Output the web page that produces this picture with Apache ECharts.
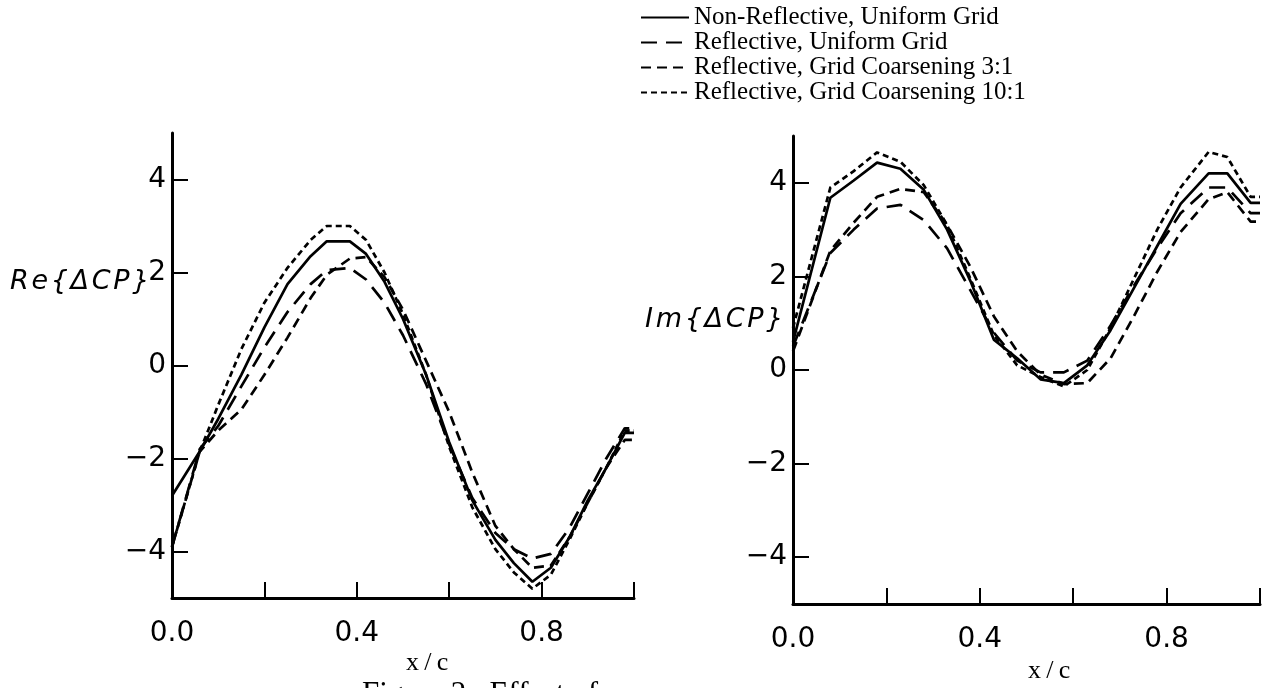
<!DOCTYPE html>
<html lang="en">
<head>
<meta charset="UTF-8">
<title>Re / Im ΔCP</title>
<style>
html, body { margin: 0; padding: 0; background: #fff; }
#demo { width: 1273px; height: 688px; }
</style>
</head>
<body>
<div id="demo"></div>
<script src="https://cdn.jsdelivr.net/npm/echarts@6/dist/echarts.min.js"></script>
<script>
// legend names
var seriesNames = [
    'Non-Reflective, Uniform Grid',
    'Reflective, Uniform Grid',
    'Reflective, Grid Coarsening 3:1',
    'Reflective, Grid Coarsening 10:1'
];

// Re{dCP} panel
var xRe = [0, 0.06, 0.1, 0.15, 0.2, 0.25, 0.3, 0.335, 0.385, 0.42, 0.46, 0.5, 0.55, 0.6, 0.65, 0.7, 0.74, 0.78, 0.82, 0.86, 0.9, 0.94, 0.98, 1.0];
var reNonRefl = [-2.8, -1.85, -1.15, -0.2, 0.82, 1.75, 2.35, 2.67, 2.67, 2.4, 1.8, 1.0, -0.2, -1.65, -2.9, -3.75, -4.25, -4.65, -4.35, -3.7, -2.9, -2.2, -1.45, -1.45];
var reRefl = [-3.9, -1.8, -1.3, -0.45, 0.39, 1.15, 1.75, 2.05, 2.1, 1.85, 1.35, 0.65, -0.4, -1.7, -2.85, -3.6, -3.95, -4.15, -4.05, -3.5, -2.75, -2.0, -1.35, -1.35];
var reCoarse3 = [-3.9, -1.85, -1.4, -0.95, -0.2, 0.6, 1.45, 1.95, 2.3, 2.33, 1.9, 1.2, 0.1, -1.0, -2.3, -3.45, -3.95, -4.35, -4.3, -3.7, -2.95, -2.2, -1.6, -1.6];
var reCoarse10 = [-3.9, -1.85, -0.85, 0.35, 1.35, 2.1, 2.7, 3.0, 3.0, 2.7, 2.0, 1.1, -0.2, -1.75, -3.05, -3.95, -4.45, -4.8, -4.5, -3.75, -2.95, -2.2, -1.4, -1.4];

// Im{dCP} panel
var xIm = [0, 0.08, 0.13, 0.18, 0.23, 0.28, 0.33, 0.38, 0.43, 0.48, 0.53, 0.58, 0.63, 0.68, 0.73, 0.78, 0.83, 0.89, 0.93, 0.98, 1.0];
var imNonRefl = [0.6, 3.68, 4.05, 4.43, 4.3, 3.85, 3.0, 1.9, 0.65, 0.25, -0.2, -0.28, 0.1, 0.85, 1.75, 2.65, 3.55, 4.2, 4.2, 3.57, 3.57];
var imRefl = [0.5, 2.5, 3.0, 3.45, 3.53, 3.2, 2.6, 1.7, 0.8, 0.2, -0.05, -0.05, 0.2, 0.95, 1.8, 2.6, 3.35, 3.9, 3.9, 3.35, 3.35];
var imCoarse3 = [0.4, 2.55, 3.15, 3.7, 3.87, 3.8, 3.1, 2.2, 1.15, 0.4, -0.1, -0.3, -0.28, 0.25, 1.15, 2.1, 2.95, 3.65, 3.8, 3.17, 3.17];
var imCoarse10 = [0.9, 3.9, 4.25, 4.65, 4.45, 3.95, 3.1, 1.95, 0.75, 0.1, -0.15, -0.35, 0.0, 0.9, 1.95, 3.0, 3.9, 4.66, 4.55, 3.7, 3.7];

var yTicks = [-4, -2, 0, 2, 4];
var xTicks = [0, 0.2, 0.4, 0.6, 0.8, 1.0];
var xLabels = [0, 0.4, 0.8];

var dashTypes = ['solid', [16, 9], [10, 6], [6, 4]];

function pairs(xs, ys) {
    return xs.map(function (x, i) { return [x, ys[i]]; });
}

var myChart = echarts.init(document.getElementById('demo'));

function xAxisCfg(gridIndex) {
    return {
        type: 'value', gridIndex: gridIndex, min: 0, max: 1,
        axisLine: { onZero: false, lineStyle: { color: '#000', width: 3 } },
        axisTick: { inside: true, length: 16, customValues: xTicks, lineStyle: { color: '#000', width: 2 } },
        axisLabel: {
            customValues: xLabels, margin: 22, color: '#000',
            fontFamily: 'DejaVu Sans', fontSize: 28,
            formatter: function (v) { return v.toFixed(1); }
        },
        splitLine: { show: false }
    };
}
function yAxisCfg(gridIndex) {
    return {
        type: 'value', gridIndex: gridIndex, min: -5, max: 5,
        axisLine: { onZero: false, lineStyle: { color: '#000', width: 3 } },
        axisTick: { inside: true, length: 16, customValues: yTicks, lineStyle: { color: '#000', width: 2 } },
        axisLabel: {
            customValues: yTicks, margin: 6, color: '#000',
            fontFamily: 'DejaVu Sans', fontSize: 28,
            formatter: function (v) { return v < 0 ? '\u2212' + Math.abs(v) : String(v); }
        },
        splitLine: { show: false }
    };
}

var reSets = [reNonRefl, reRefl, reCoarse3, reCoarse10];
var imSets = [imNonRefl, imRefl, imCoarse3, imCoarse10];
var series = [];
seriesNames.forEach(function (name, i) {
    series.push({
        name: name, type: 'line', xAxisIndex: 0, yAxisIndex: 0,
        data: pairs(xRe, reSets[i]), symbol: 'none', clip: false,
        itemStyle: { color: '#000' },
        lineStyle: { color: '#000', width: 2.7, type: dashTypes[i] }
    });
    series.push({
        name: name, type: 'line', xAxisIndex: 1, yAxisIndex: 1,
        data: pairs(xIm, imSets[i]), symbol: 'none', clip: false,
        itemStyle: { color: '#000' },
        lineStyle: { color: '#000', width: 2.7, type: dashTypes[i] }
    });
});

var labelFont = { fontFamily: 'DejaVu Sans', fontStyle: 'italic', fontWeight: 'normal', fontSize: 27, color: '#000' };
var serifFont = { fontFamily: 'Liberation Serif', fontWeight: 'normal', fontSize: 26, color: '#000' };

var option = {
    animation: false,
    backgroundColor: '#fff',
    title: [
        { text: 'R\u200Ae\u200A{\u200A\u0394\u200AC\u200AP\u200A}', left: 10, top: 268, padding: 0, textStyle: labelFont },
        { text: 'I\u200Am\u200A{\u200A\u0394\u200AC\u200AP\u200A}', left: 645, top: 306, padding: 0, textStyle: labelFont },
        { text: 'x\u2009/\u2009c', left: 406, top: 650, padding: 0, textStyle: serifFont },
        { text: 'x\u2009/\u2009c', left: 1028, top: 658, padding: 0, textStyle: serifFont },
        { text: 'Figure 2.  Effect of', left: 362, top: 679, padding: 0,
          textStyle: { fontFamily: 'Liberation Serif', fontWeight: 'normal', fontSize: 31, color: '#000' } }
    ],
    legend: {
        data: seriesNames,
        orient: 'vertical', left: 640, top: 5, padding: 0,
        itemWidth: 48, itemHeight: 12, itemGap: 0,
        itemStyle: { opacity: 0 },
        lineStyle: { width: 2 },
        textStyle: { fontFamily: 'Liberation Serif', fontSize: 25, lineHeight: 25, color: '#000' }
    },
    grid: [
        { left: 172, right: 639, top: 133, bottom: 90 },
        { left: 793, right: 13, top: 136, bottom: 84 }
    ],
    xAxis: [xAxisCfg(0), xAxisCfg(1)],
    yAxis: [yAxisCfg(0), yAxisCfg(1)],
    series: series
};
myChart.setOption(option);
</script>
</body>
</html>
